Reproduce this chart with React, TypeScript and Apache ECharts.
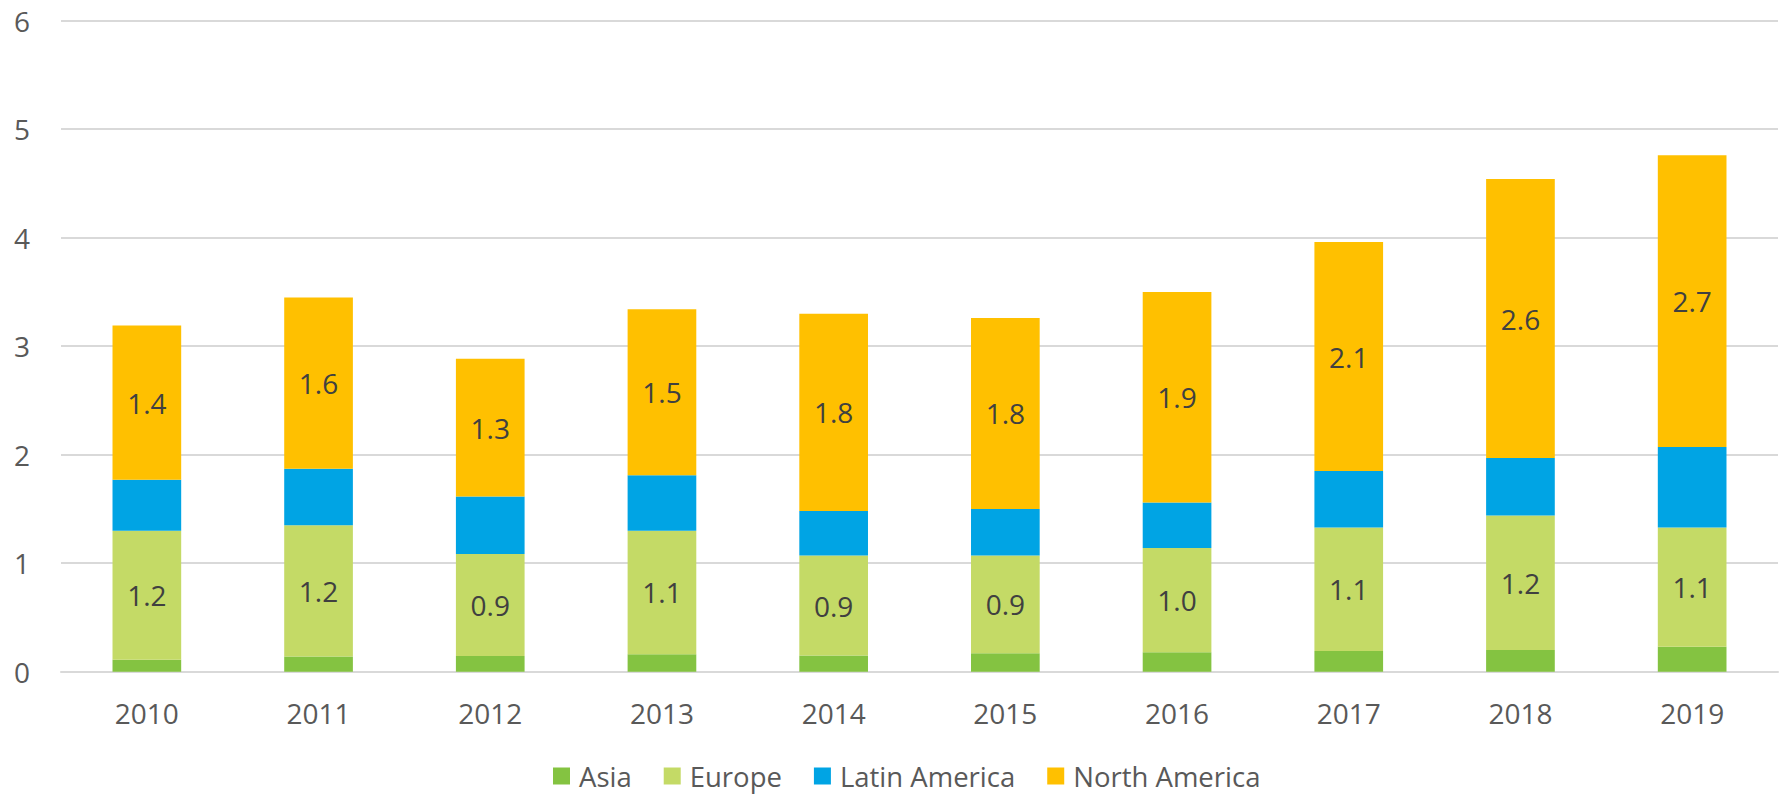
import React, { useEffect, useRef } from "react";
import * as echarts from "echarts";

const years = ["2010", "2011", "2012", "2013", "2014", "2015", "2016", "2017", "2018", "2019"];
const asia = [0.11, 0.14, 0.145, 0.16, 0.15, 0.17, 0.18, 0.19, 0.2, 0.23];
const europe = [1.19, 1.21, 0.94, 1.14, 0.92, 0.9, 0.96, 1.14, 1.24, 1.1];
const latinAmerica = [0.47, 0.52, 0.53, 0.51, 0.41, 0.43, 0.42, 0.52, 0.53, 0.74];
const northAmerica = [1.42, 1.58, 1.27, 1.53, 1.82, 1.76, 1.94, 2.11, 2.57, 2.69];

const FONT = "'Open Sans', 'Noto Sans', sans-serif";

export default function App() {
  const ref = useRef<HTMLDivElement>(null);
  useEffect(() => {
    if (!ref.current) return;
    const chart = echarts.init(ref.current, null, { renderer: "svg" });
    const label = {
      show: true,
      position: "inside",
      color: "#404040",
      fontSize: 28,
      fontFamily: FONT,
      formatter: (p: any) => Number(p.value).toFixed(1),
    };
    const mk = (name: string, data: number[], color: string, withLabel: boolean) => ({
      name,
      type: "bar",
      stack: "total",
      data,
      barWidth: "40%",
      itemStyle: { color },
      label: withLabel ? label : { show: false },
      emphasis: { disabled: true },
    });
    chart.setOption({
      animation: false,
      textStyle: { fontFamily: FONT },
      grid: { left: 61, right: 5, top: 20.7, bottom: 123.3, containLabel: false },
      legend: {
        bottom: 0,
        left: 548,
        itemWidth: 17,
        itemHeight: 17,
        itemGap: 32,
        icon: "rect",
        textStyle: { color: "#595959", fontSize: 27.5, fontFamily: FONT, padding: [0, 0, 0, 4] },
        data: ["Asia", "Europe", "Latin America", "North America"],
      },
      xAxis: {
        type: "category",
        data: years,
        axisLine: { show: true, lineStyle: { color: "#D9D9D9", width: 2 } },
        axisTick: { show: false },
        axisLabel: { color: "#595959", fontSize: 28, fontFamily: FONT, margin: 27 },
      },
      yAxis: {
        type: "value",
        min: 0,
        max: 6,
        interval: 1,
        axisLine: { show: false },
        axisTick: { show: false },
        splitLine: { lineStyle: { color: "#D9D9D9", width: 2 } },
        axisLabel: { color: "#595959", fontSize: 28, fontFamily: FONT, margin: 31 },
      },
      series: [
        mk("Asia", asia, "#84C341", false),
        mk("Europe", europe, "#C4DA66", true),
        mk("Latin America", latinAmerica, "#00A4E4", false),
        mk("North America", northAmerica, "#FFC000", true),
      ],
    });
    return () => chart.dispose();
  }, []);
  return (
    <div
      ref={ref}
      style={{ position: "fixed", left: 0, top: 0, width: 1783, height: 795, background: "#fff" }}
    />
  );
}
